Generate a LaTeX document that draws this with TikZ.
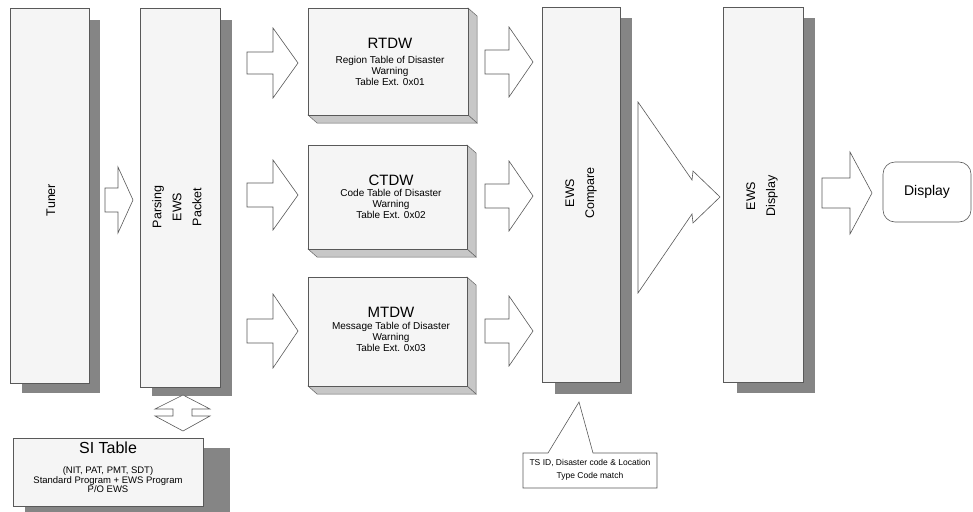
\documentclass[tikz,border=0pt]{standalone}
\usepackage{fontspec}
\setmainfont{Liberation Sans}
\begin{document}
\begin{tikzpicture}[x=1pt,y=-1pt,
  box/.style={draw=black!65,line width=0.6pt,fill=black!4},
  shadow/.style={fill=black!48},
  side/.style={draw=black!60,line width=0.5pt,fill=black!22},
  barrow/.style={draw=black!65,line width=0.6pt,fill=white,line join=miter},
  vlabel/.style={rotate=90,align=center,font=\fontsize{12.5}{20}\selectfont},
  ttitle/.style={font=\fontsize{15}{15}\selectfont},
  tsub/.style={align=center,font=\fontsize{10}{11}\selectfont,inner sep=0pt}]
\useasboundingbox (0,0) rectangle (973,511);
\newcommand{\harrow}[6]{%
  \draw[barrow] (#1,{#4-#5}) -- (#2,{#4-#5}) -- (#2,{#4-#6}) -- (#3,#4) -- (#2,{#4+#6}) -- (#2,{#4+#5}) -- (#1,{#4+#5}) -- cycle;}
% shadows
\fill[shadow] (22,20) rectangle (100,393);
\fill[shadow] (152,20) rectangle (232,396);
\fill[shadow] (555,18) rectangle (632,394);
\fill[shadow] (737,18) rectangle (815,393);
\fill[shadow] (25,448) rectangle (230,520);
% tall boxes
\draw[box] (10,8) rectangle (89,383);
\node[vlabel] (tuner) at (51,200) {Tuner};
\draw[box] (140,8) rectangle (220,387);
\node[vlabel] (parse) at (177,207) {Parsing\\EWS\\Packet};
\draw[box] (542,7) rectangle (620,382);
\node[vlabel] (cmp) at (581,193) {EWS\\Compare};
\draw[box] (723,7) rectangle (803,382);
\node[vlabel] (disp) at (762,196) {EWS\\Display};
% 3D table boxes
\newcommand{\tbox}[4]{%
  \draw[side] (#2,#3) -- ({#2+9},{#3+8}) -- ({#2+9},{#4+8}) -- (#2,#4) -- cycle;
  \draw[side] (#1,#4) -- (#2,#4) -- ({#2+9},{#4+8}) -- ({#1+9},{#4+8}) -- cycle;
  \draw[box] (#1,#3) rectangle (#2,#4);}
\tbox{308}{468}{8}{115}
\tbox{308}{467}{145}{249}
\tbox{308}{467}{277}{386}
\node[ttitle] (rt) at (390,43) {RTDW};
\node[tsub] (rts) at (390,71) {Region Table of Disaster\\Warning\\Table Ext. 0x01};
\node[ttitle] (ct) at (391,180) {CTDW};
\node[tsub] (cts) at (391,204) {Code Table of Disaster\\Warning\\Table Ext. 0x02};
\node[ttitle] (mt) at (391,312) {MTDW};
\node[tsub] (mts) at (391,337) {Message Table of Disaster\\Warning\\Table Ext. 0x03};
% block arrows
\harrow{105}{118}{133}{200}{12}{33}
\harrow{247}{273}{298}{63}{11}{35}
\harrow{247}{273}{298}{195}{12}{35}
\harrow{247}{273}{298}{331}{12}{37}
\harrow{485}{509}{533}{62}{12}{35}
\harrow{485}{509}{533}{196}{12}{35}
\harrow{485}{509}{533}{331}{12}{35}
\harrow{822}{850}{872}{193}{15}{41}
% big arrow
\draw[barrow] (638,102) -- (692,180) -- (693,171) -- (720,197) -- (693,223) -- (692,214) -- (638,293) -- cycle;
% display
\draw[box,fill=white,rounded corners=12pt] (883,162) rectangle (971,222);
\node[font=\fontsize{14}{14}\selectfont] (dsp) at (927,192) {Display};
% double arrow
\draw[barrow] (183,395) -- (210,409) -- (192,409) -- (192,416) -- (210,416) -- (183,431) -- (155,416) -- (173,416) -- (173,409) -- (155,409) -- cycle;
% SI table
\draw[box] (13,438) rectangle (203,506);
\node[font=\fontsize{16}{16}\selectfont] (si) at (108,448) {SI Table};
\node[align=center,inner sep=0pt,font=\fontsize{9.5}{9.5}\selectfont] (sis) at (108,480) {(NIT, PAT, PMT, SDT)\\Standard Program + EWS Program\\P/O EWS};
% callout
\draw[box,fill=white] (523,453) -- (548,453) -- (579,402) -- (593,453) -- (657,453) -- (657,488) -- (523,488) -- cycle;
\node[align=center,inner sep=0pt,font=\fontsize{8.5}{13}\selectfont] (co) at (590,470) {TS ID, Disaster code \& Location\\Type Code match};
\end{tikzpicture}
\end{document}
